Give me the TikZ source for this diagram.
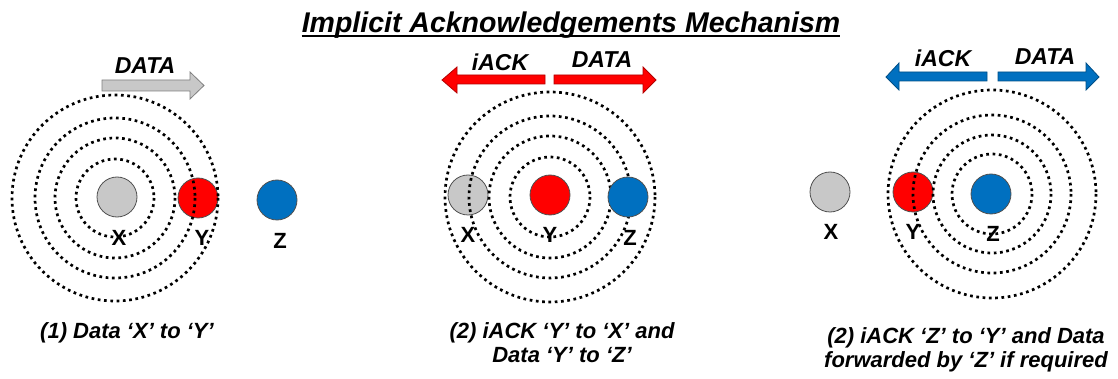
\documentclass[tikz,border=0pt]{standalone}
\usepackage{fontspec}
\setmainfont{Liberation Sans}
\usetikzlibrary{calc}
\definecolor{nodegray}{RGB}{200,200,200}
\definecolor{nodered}{RGB}{255,0,0}
\definecolor{nodeblue}{RGB}{0,112,192}
\definecolor{rimgray}{RGB}{80,80,80}
\begin{document}
\begin{tikzpicture}[x=1pt,y=-1pt,
  station/.style={circle,minimum size=40pt,inner sep=0pt,draw=rimgray,line width=0.8pt},
  hearing/.style={line width=2.7pt,dash pattern=on 2.7pt off 3.6pt,black},
  nodetag/.style={font=\fontsize{22}{24}\selectfont\bfseries,inner sep=0pt,anchor=base},
  flowtext/.style={font=\fontsize{23}{26}\selectfont\bfseries\itshape,inner sep=0pt,anchor=base},
  capline/.style={font=\fontsize{22}{25}\selectfont\bfseries\itshape,inner sep=0pt,anchor=base},
  grayflow/.style={fill=nodegray,draw=gray,line width=0.8pt},
  redflow/.style={fill=nodered,draw=nodered!70!black,line width=0.8pt},
  blueflow/.style={fill=nodeblue,draw=nodeblue!70!black,line width=0.8pt}]
\useasboundingbox (0,0) rectangle (1118,379);

% title
\node[font=\fontsize{28.5}{32}\selectfont\bfseries\itshape,inner sep=0pt,anchor=base] (title) at (571,33) {Implicit Acknowledgements Mechanism};
\draw[line width=2pt] ([yshift=-3pt]title.base west) -- ([yshift=-3pt]title.base east);

% ---------- step 1: X sends data to Y ----------
\node[station,fill=nodegray] (x1) at (117,197) {};
\node[station,fill=nodered]  (y1) at (198,198) {};
\node[station,fill=nodeblue] (z1) at (277,200) {};
\coordinate (c1) at (115,198);
\foreach \r in {39,60,80,103} \draw[hearing] (c1) circle[radius=\r];
\node[nodetag] (lx1) at (119,246) {X};
\node[nodetag] (ly1) at (202,246) {Y};
\node[nodetag] (lz1) at (280,248) {Z};
\draw[grayflow] (102,80) -- (190,80) -- (190,72) -- (204,85.5) -- (190,99) -- (190,91) -- (102,91) -- cycle;
\node[flowtext] (d1) at (145,74) {DATA};
\node[capline] (cap1) at (127,338) {(1) Data ‘X’ to ‘Y’};

% ---------- step 2: Y acknowledges X and forwards to Z ----------
\node[station,fill=nodegray] (x2) at (468,195) {};
\node[station,fill=nodered]  (y2) at (550,195) {};
\coordinate (c2) at (550,197);
\foreach \r in {40,61,81,105} \draw[hearing] (c2) circle[radius=\r];
\node[station,fill=nodeblue] (z2) at (628,197) {};
\node[nodetag] (lx2) at (468,243) {X};
\node[nodetag] (ly2) at (550,243) {Y};
\node[nodetag] (lz2) at (630,245) {Z};
\draw[redflow] (545,75) -- (457,75) -- (457,67) -- (442,80) -- (457,93) -- (457,84) -- (545,84) -- cycle;
\draw[redflow] (554,75) -- (643,75) -- (643,67) -- (656,80) -- (643,93) -- (643,84) -- (554,84) -- cycle;
\node[flowtext] (a2) at (500,71) {iACK};
\node[flowtext] (d2) at (602,68) {DATA};
\node[capline] (cap2a) at (562,338) {(2) iACK ‘Y’ to ‘X’ and};
\node[capline] (cap2b) at (562,362) {Data ‘Y’ to ‘Z’};

% ---------- step 3: Z acknowledges Y ----------
\node[station,fill=nodegray] (x3) at (830,192) {};
\node[station,fill=nodered]  (y3) at (913,192) {};
\node[station,fill=nodeblue] (z3) at (991,194) {};
\coordinate (c3) at (992,194);
\foreach \r in {40,59,79,104} \draw[hearing] (c3) circle[radius=\r];
\node[nodetag] (lx3) at (831,240) {X};
\node[nodetag] (ly3) at (913,240) {Y};
\node[nodetag] (lz3) at (993,242) {Z};
\draw[blueflow] (987,72) -- (899,72) -- (899,63) -- (886,77) -- (899,90) -- (899,81) -- (987,81) -- cycle;
\draw[blueflow] (998,72) -- (1086,72) -- (1086,63) -- (1099,77) -- (1086,90) -- (1086,81) -- (998,81) -- cycle;
\node[flowtext] (a3) at (943,67) {iACK};
\node[flowtext] (d3) at (1045,65) {DATA};
\node[capline] (cap3a) at (966,343) {(2) iACK ‘Z’ to ‘Y’ and Data};
\node[capline] (cap3b) at (966,367) {forwarded by ‘Z’ if required};
\end{tikzpicture}
\end{document}
